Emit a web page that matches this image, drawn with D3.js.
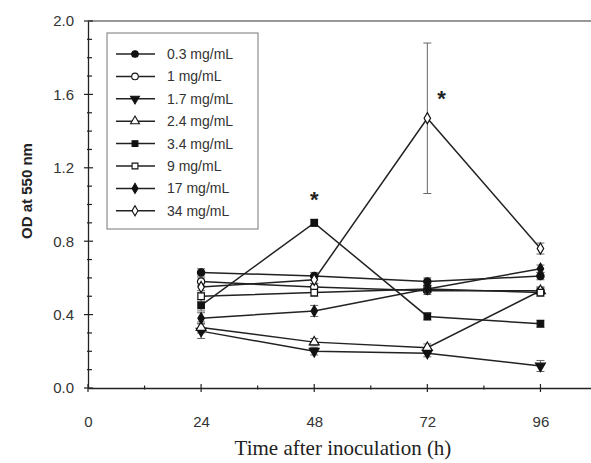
<!DOCTYPE html>
<html>
<head>
<meta charset="utf-8">
<script src="https://cdn.jsdelivr.net/npm/d3@7"></script>
<style>
  body { margin: 0; background: #fff; }
  svg { display: block; }
</style>
</head>
<body>
<svg id="chart" width="591" height="463"></svg>
<script>
// data
const times = [24, 48, 72, 96];
const seriesNames = ["0.3 mg/mL", "1 mg/mL", "1.7 mg/mL", "2.4 mg/mL", "3.4 mg/mL", "9 mg/mL", "17 mg/mL", "34 mg/mL"];
const od03 = [0.63, 0.61, 0.58, 0.61];
const od1 = [0.58, 0.55, 0.53, 0.53];
const od17 = [0.31, 0.20, 0.19, 0.12];
const od24 = [0.33, 0.25, 0.22, 0.53];
const od34 = [0.45, 0.90, 0.39, 0.35];
const od9 = [0.50, 0.52, 0.54, 0.52];
const od170 = [0.38, 0.42, 0.54, 0.65];
const od340 = [0.55, 0.59, 1.47, 0.76];
const err03 = [0.02, 0.02, 0.02, 0.02];
const err1 = [0.02, 0.02, 0.02, 0.02];
const err17 = [0.04, 0.02, 0.02, 0.03];
const err24 = [0.03, 0.02, 0.02, 0.02];
const err34 = [0.03, 0.02, 0.02, 0.02];
const err9 = [0.03, 0.02, 0.02, 0.02];
const err170 = [0.03, 0.03, 0.02, 0.02];
const err340 = [0.03, 0.02, 0.41, 0.03];
const stars = [[48, 1.05], [75, 1.6]];
const xTicks = [0, 24, 48, 72, 96];
const xMinor = [12, 36, 60, 84, 108];
const yTicks = [0, 0.4, 0.8, 1.2, 1.6, 2.0];

const svg = d3.select("#chart"),
    margin = { top: 21, left: 88, bottom: 75 },
    height = +svg.attr("height") - margin.top - margin.bottom;

const x = d3.scaleLinear().domain([0, 108]).range([margin.left, margin.left + 509]);
const y = d3.scaleLinear().domain([0, 2.0]).range([margin.top + height, margin.top]);

const sym = [
    { type: d3.symbolCircle, fill: true, rot: 0 },
    { type: d3.symbolCircle, fill: false, rot: 0 },
    { type: d3.symbolTriangle, fill: true, rot: 180 },
    { type: d3.symbolTriangle, fill: false, rot: 0 },
    { type: d3.symbolSquare, fill: true, rot: 0 },
    { type: d3.symbolSquare, fill: false, rot: 0 },
    { type: d3.symbolDiamond, fill: true, rot: 0 },
    { type: d3.symbolDiamond, fill: false, rot: 0 }
];
const values = [od03, od1, od17, od24, od34, od9, od170, od340];
const errors = [err03, err1, err17, err24, err34, err9, err170, err340];

// frame: top line and axes
svg.append("line")
    .attr("x1", x(0)).attr("x2", 591)
    .attr("y1", y(2)).attr("y2", y(2))
    .attr("stroke", "#333").attr("stroke-width", 1.2);

svg.append("g")
    .attr("transform", "translate(0," + y(0) + ")")
    .call(d3.axisBottom(x).tickValues(xTicks).tickSize(0).tickPadding(28).tickFormat(d3.format("d")))
    .call(g => g.select(".domain").attr("stroke", "#222").attr("stroke-width", 1.3))
    .call(g => g.selectAll("text").attr("font-family", "Liberation Sans, Arial, sans-serif").attr("font-size", 15).attr("fill", "#333"));

svg.append("g")
    .attr("transform", "translate(" + x(0) + ",0)")
    .call(d3.axisLeft(y).tickValues(yTicks).tickSize(0).tickPadding(14).tickFormat(d3.format(".1f")))
    .call(g => g.select(".domain").attr("stroke", "#222").attr("stroke-width", 1.3))
    .call(g => g.selectAll("text").attr("font-family", "Liberation Sans, Arial, sans-serif").attr("font-size", 15).attr("fill", "#333"));

// tick marks
const tk = svg.append("g").attr("stroke", "#222").attr("stroke-width", 1.2);
tk.selectAll(".xmaj").data(xTicks).enter().append("line")
    .attr("x1", d => x(d)).attr("x2", d => x(d))
    .attr("y1", y(0) - 4).attr("y2", y(0) + 4);
tk.selectAll(".xmin").data(xMinor).enter().append("line")
    .attr("x1", d => x(d)).attr("x2", d => x(d))
    .attr("y1", y(0) - 2.5).attr("y2", y(0) + 1.5);
tk.selectAll(".ymaj").data(yTicks).enter().append("line")
    .attr("x1", x(0) - 4).attr("x2", x(0) + 5)
    .attr("y1", d => y(d)).attr("y2", d => y(d));
tk.selectAll(".ymin").data(d3.range(1, 20).filter(i => i % 4 !== 0).map(i => i / 10)).enter().append("line")
    .attr("x1", x(0) - 1).attr("x2", x(0) + 4)
    .attr("y1", d => y(d)).attr("y2", d => y(d));

// axis titles
svg.append("text")
    .attr("transform", "translate(32,191) rotate(-90)")
    .attr("text-anchor", "middle")
    .attr("font-family", "Liberation Sans, Arial, sans-serif")
    .attr("font-weight", "bold")
    .attr("font-size", 15)
    .attr("fill", "#222")
    .text("OD at 550 nm");

svg.append("text")
    .attr("x", 343).attr("y", 455)
    .attr("text-anchor", "middle")
    .attr("font-family", "Liberation Serif, Times New Roman, serif")
    .attr("font-size", 21)
    .attr("fill", "#222")
    .text("Time after inoculation (h)");

// error bars
const eb = svg.append("g").attr("stroke", "#666").attr("stroke-width", 1);
values.forEach((vals, s) => {
    times.forEach((t, i) => {
        const e = errors[s][i];
        const cx = x(t);
        eb.append("line").attr("x1", cx).attr("x2", cx).attr("y1", y(vals[i] - e)).attr("y2", y(vals[i] + e));
        eb.append("line").attr("x1", cx - 4).attr("x2", cx + 4).attr("y1", y(vals[i] - e)).attr("y2", y(vals[i] - e));
        eb.append("line").attr("x1", cx - 4).attr("x2", cx + 4).attr("y1", y(vals[i] + e)).attr("y2", y(vals[i] + e));
    });
});

// lines
const line = d3.line().x((d, i) => x(times[i])).y(d => y(d));
svg.append("g").selectAll("path")
    .data(values)
    .enter()
    .append("path")
    .attr("d", d => line(d))
    .attr("fill", "none")
    .attr("stroke", "#222")
    .attr("stroke-width", 1.5);

// markers
values.forEach((vals, s) => {
    const st = sym[s];
    svg.append("g").selectAll("path")
        .data(vals)
        .enter()
        .append("path")
        .attr("d", d3.symbol().type(st.type).size(st.type === d3.symbolDiamond ? 36 : 42))
        .attr("transform", (d, i) => "translate(" + x(times[i]) + "," + y(d) + ") rotate(" + st.rot + ")")
        .attr("fill", st.fill ? "#111" : "#fff")
        .attr("stroke", "#111")
        .attr("stroke-width", 1.2);
});

// significance stars
svg.selectAll(".star")
    .data(stars)
    .enter()
    .append("text")
    .attr("x", d => x(d[0]))
    .attr("y", d => y(d[1]) + 12)
    .attr("text-anchor", "middle")
    .attr("font-family", "Liberation Sans, Arial, sans-serif")
    .attr("font-weight", "bold")
    .attr("font-size", 22)
    .attr("fill", "#222")
    .text("*");

// legend
const lg = svg.append("g");
lg.append("rect")
    .attr("x", 107).attr("y", 33).attr("width", 151).attr("height", 196)
    .attr("fill", "#fff").attr("stroke", "#777").attr("stroke-width", 1);
seriesNames.forEach((name, i) => {
    const ly = 54 + i * 22.4;
    const st = sym[i];
    lg.append("line").attr("x1", 116).attr("x2", 155).attr("y1", ly).attr("y2", ly)
        .attr("stroke", "#222").attr("stroke-width", 1.5);
    lg.append("path")
        .attr("d", d3.symbol().type(st.type).size(st.type === d3.symbolDiamond ? 30 : 34))
        .attr("transform", "translate(135," + ly + ") rotate(" + st.rot + ")")
        .attr("fill", st.fill ? "#111" : "#fff")
        .attr("stroke", "#111").attr("stroke-width", 1.1);
    lg.append("text")
        .attr("x", 167).attr("y", ly + 5)
        .attr("font-family", "Liberation Sans, Arial, sans-serif")
        .attr("font-size", 14)
        .attr("fill", "#333")
        .text(name);
});
</script>
</body>
</html>
